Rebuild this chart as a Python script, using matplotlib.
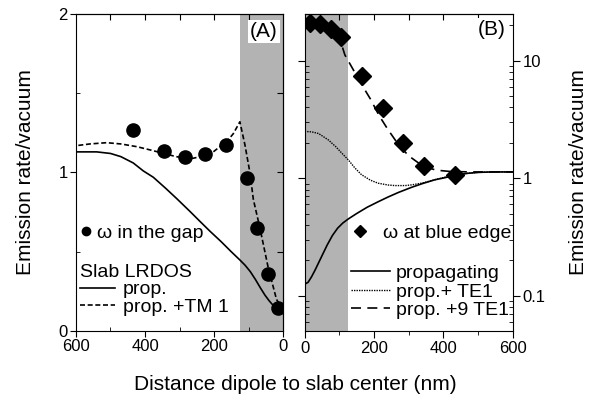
import matplotlib
matplotlib.use("Agg")
import matplotlib.pyplot as plt
from matplotlib.lines import Line2D
from matplotlib.ticker import FixedLocator, LogLocator, NullFormatter, FixedFormatter

plt.rcParams['font.family'] = ['Liberation Sans', 'DejaVu Sans']

# measured points (same dipole distances in both panels)
dist_meas = [14, 44, 75, 104, 164, 225, 285, 345, 435]
rate_gap = [0.147, 0.362, 0.652, 0.963, 1.172, 1.119, 1.10, 1.134, 1.266]
rate_blue = [21.1, 20.4, 18.5, 15.9, 7.42, 3.94, 1.99, 1.28, 1.07]

# slab LRDOS, propagating modes only
dist_prop = [0, 10, 20, 30, 40, 52, 65, 80, 95, 110, 126, 150, 180, 212, 240,
             270, 308, 340, 376, 405, 434, 470, 500, 540, 600]
rate_prop = [0.125, 0.13, 0.145, 0.165, 0.19, 0.225, 0.27, 0.325, 0.375, 0.415,
             0.45, 0.5, 0.565, 0.63, 0.69, 0.755, 0.835, 0.9, 0.97, 1.01, 1.06,
             1.10, 1.12, 1.13, 1.13]

# propagating + TM1 guided mode
dist_tm1 = [0, 19, 43, 67, 86, 96, 110, 125, 144, 165, 183, 205, 231, 260, 280,
            310, 347, 390, 424, 470, 511, 560, 600]
rate_tm1 = [0.13, 0.2, 0.4, 0.65, 0.83, 1.0, 1.17, 1.32, 1.245, 1.19, 1.163,
            1.125, 1.104, 1.09, 1.09, 1.10, 1.121, 1.145, 1.163, 1.18, 1.188,
            1.18, 1.169]

# propagating + TE1 guided mode
dist_te1 = [0, 20, 40, 68, 90, 110, 126, 145, 164, 190, 212, 240, 260, 290, 309,
            340, 376, 410, 434, 470, 500, 540, 600]
rate_te1 = [2.5, 2.48, 2.4, 2.12, 1.85, 1.6, 1.43, 1.22, 1.07, 0.96, 0.906, 0.875,
            0.865, 0.865, 0.877, 0.91, 0.97, 1.03, 1.07, 1.10, 1.12, 1.13, 1.13]

# propagating + 9 x TE1
dist_te9 = [0, 15, 45, 75, 104, 116, 140, 164, 190, 215, 240, 270, 300, 342, 380,
            420, 480, 600]
rate_te9 = [22, 21.3, 20.0, 18.0, 14.5, 11.2, 8.4, 6.3, 4.7, 3.4, 2.6, 1.94, 1.55,
            1.26, 1.17, 1.14, 1.13, 1.13]

slab_half = 125

fig = plt.figure(figsize=(5.9, 4.03), dpi=100)
ax1 = fig.add_axes([0.1288, 0.1787, 0.3509, 0.7866])
ax2 = fig.add_axes([0.5164, 0.1787, 0.3525, 0.7866])

gray = '#b3b3b3'
fs_tick = 12
fs_label = 15
fs_leg = 14

# ---- (A) linear
ax1.axvspan(0, slab_half, color=gray, lw=0, zorder=0)
l_prop, = ax1.plot(dist_prop, rate_prop, color='k', lw=1.2)
l_tm, = ax1.plot(dist_tm1, rate_tm1, color='k', lw=1.2, dashes=(3, 1.6))
ax1.plot(dist_meas, rate_gap, 'o', color='k', ms=9.5, zorder=5)
ax1.set_xlim(600, 0)
ax1.set_ylim(0, 2)
ax1.set_xticks([600, 400, 200, 0])
ax1.set_xticks([500, 300, 100], minor=True)
ax1.set_yticks([0, 1, 2])
ax1.set_yticks([0.5, 1.5], minor=True)
ax1.tick_params(which='major', direction='out', length=4, labelsize=fs_tick, pad=2)
ax1.tick_params(which='minor', direction='in', length=3)
sx = ax1.secondary_xaxis('top')
sx.set_xticks([500, 400, 300, 200, 100])
sx.tick_params(direction='in', length=4, labeltop=False)
sy = ax1.secondary_yaxis('right')
sy.set_yticks([0.5, 1, 1.5])
sy.tick_params(direction='in', length=4, labelright=False)
ax1.set_ylabel('Emission rate/vacuum', fontsize=fs_label, labelpad=17)
ax1.text(0.908, 0.946, '(A)', transform=ax1.transAxes, ha='center', va='center',
         fontsize=15, bbox=dict(fc='white', ec='none', pad=1.5))

h_dot = Line2D([], [], marker='o', color='k', ls='none', ms=6)
leg_a1 = ax1.legend([h_dot], ['ω in the gap'], loc='center left',
                    bbox_to_anchor=(0.0, 0.309), frameon=False, fontsize=fs_leg,
                    handlelength=0.6, handletextpad=0.3, borderpad=0, borderaxespad=0.2)
ax1.add_artist(leg_a1)
ax1.legend([l_prop, l_tm], ['prop.', 'prop. +TM 1'], title='Slab LRDOS',
           title_fontsize=fs_leg, alignment='left', loc='lower left',
           bbox_to_anchor=(0.0, 0.035), frameon=False, fontsize=fs_leg,
           handlelength=1.8, handletextpad=0.4, labelspacing=0.0,
           borderpad=0, borderaxespad=0.2)

# ---- (B) log
ax2.axvspan(0, slab_half, color=gray, lw=0, zorder=0)
r_prop, = ax2.plot(dist_prop, rate_prop, color='k', lw=1.2)
r_te1, = ax2.plot(dist_te1, rate_te1, color='k', lw=1.0, dashes=(1, 0.8))
r_te9, = ax2.plot(dist_te9, rate_te9, color='k', lw=1.2, dashes=(6, 3.8))
ax2.plot(dist_meas, rate_blue, 'D', color='k', ms=9, zorder=5)
ax2.set_yscale('log')
ax2.set_xlim(0, 600)
ax2.set_ylim(0.05, 25)
ax2.set_xticks([0, 200, 400, 600])
ax2.set_xticks([100, 300, 500], minor=True)
ax2.yaxis.set_major_locator(FixedLocator([0.1, 1, 10]))
ax2.yaxis.set_major_formatter(FixedFormatter(['0.1', '1', '10']))
ax2.yaxis.set_minor_locator(LogLocator(base=10, subs=range(2, 10)))
ax2.yaxis.set_minor_formatter(NullFormatter())
ax2.yaxis.tick_right()
ax2.yaxis.set_label_position('right')
ax2.tick_params(axis='x', which='major', direction='out', length=5,
                labelsize=fs_tick, pad=2)
ax2.tick_params(axis='x', which='minor', direction='out', length=3)
ax2.tick_params(axis='y', which='major', direction='out', length=5,
                labelsize=fs_tick, pad=2, left=True, right=True)
ax2.tick_params(axis='y', which='minor', direction='in', length=3,
                left=True, right=True)
sx2 = ax2.secondary_xaxis('top')
sx2.set_xticks([100, 200, 300, 400, 500])
sx2.tick_params(direction='in', length=4, labeltop=False)
ax2.set_ylabel('Emission rate/vacuum', fontsize=fs_label, labelpad=17)
ax2.text(0.899, 0.95, '(B)', transform=ax2.transAxes, ha='center', va='center',
         fontsize=15, bbox=dict(fc='white', ec='none', pad=1.5))

h_dia = Line2D([], [], marker='D', color='k', ls='none', ms=6)
leg_b1 = ax2.legend([h_dia], ['ω at blue edge'], loc='center right',
                    bbox_to_anchor=(1.0, 0.309), frameon=False, fontsize=fs_leg,
                    handlelength=1.2, handletextpad=0.6, borderpad=0,
                    borderaxespad=0.05)
ax2.add_artist(leg_b1)
ax2.legend([r_prop, r_te1, r_te9], ['propagating', 'prop.+ TE1', 'prop. +9 TE1'],
           loc='lower right', bbox_to_anchor=(1.0, 0.025), frameon=False,
           fontsize=fs_leg, handlelength=2.0, handletextpad=0.3, labelspacing=0.05,
           borderpad=0, borderaxespad=0.2)

fig.text(0.5, 0.045, 'Distance dipole to slab center (nm)', ha='center',
         va='center', fontsize=fs_label)

fig.savefig('out.png', dpi=100)
